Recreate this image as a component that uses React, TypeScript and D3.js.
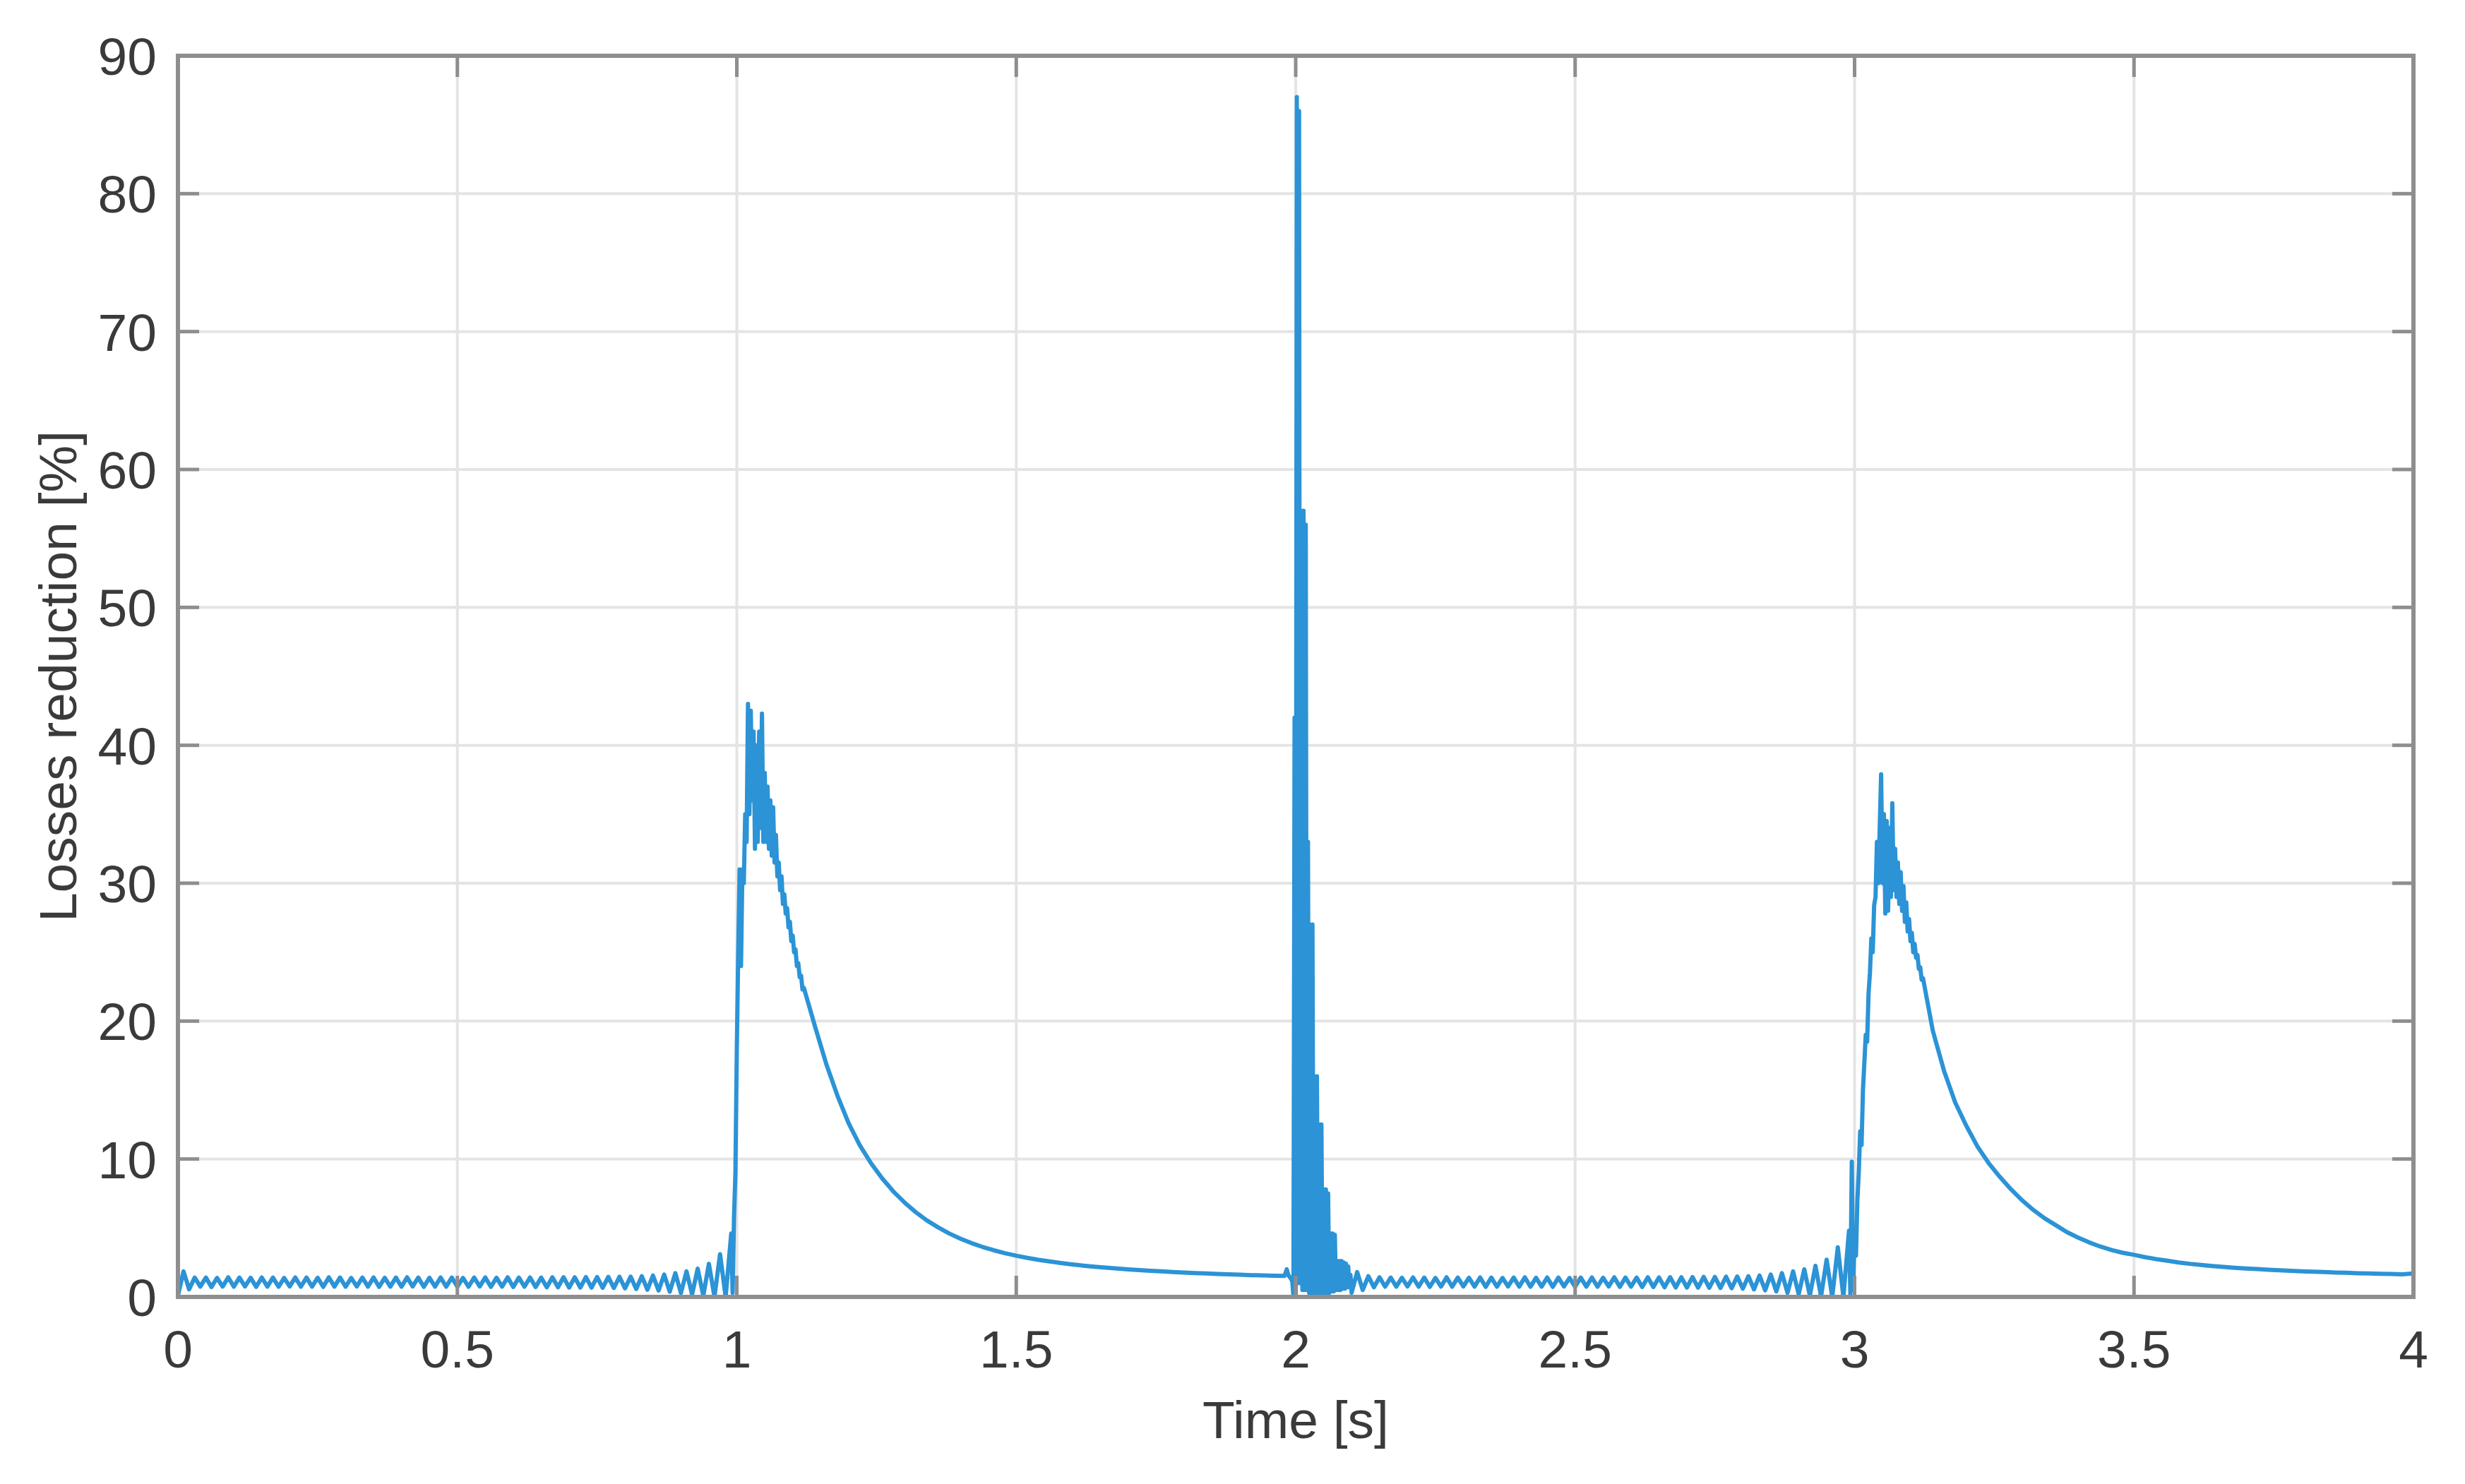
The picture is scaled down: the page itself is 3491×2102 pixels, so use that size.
import React from "react";
import * as d3 from "d3";

// ---- data ----
// Each segment: start time [s], sample step [s], values [%]
const baseline1Start = 0;
const baseline1Step = 0.01;
const baseline1Values = [
  0.1, 1.85, 0.55, 1.4, 0.75, 1.4, 0.72, 1.38, 0.75, 1.42,
  0.74, 1.4, 0.76, 1.39, 0.73, 1.41, 0.75, 1.4, 0.74, 1.38,
  0.76, 1.41, 0.74, 1.4, 0.75, 1.39, 0.73, 1.42, 0.75, 1.4,
  0.74, 1.38, 0.76, 1.4, 0.75, 1.41, 0.73, 1.39, 0.75, 1.4,
  0.74, 1.42, 0.76, 1.4, 0.73, 1.39, 0.75, 1.41, 0.74, 1.4,
  0.75, 1.38, 0.74, 1.4, 0.76, 1.41, 0.73, 1.39, 0.75, 1.42,
  0.72, 1.4, 0.74, 1.41, 0.72, 1.4, 0.7, 1.42, 0.7, 1.43,
  0.68, 1.42, 0.68, 1.44, 0.67, 1.44, 0.66, 1.45, 0.65, 1.46,
  0.62, 1.47, 0.58, 1.5, 0.52, 1.55, 0.46, 1.62, 0.38, 1.72,
  0.28, 1.85, 0.18, 2.05, 0.08, 2.4, 0.02, 3.1, 0,
];

const peak1Start = 0.99;
const peak1Step = 0.0025;
const peak1Values = [
  4.6, 0.3, 5.8, 9, 18, 25, 31, 24, 31, 30, 35, 33, 43, 35, 42.5, 36, 41, 32.5,
  40, 33, 41, 34, 42.3, 33, 38, 33, 37, 32.5, 36, 32, 35.5, 31.5, 33.5, 30.5,
  31.5, 29.5, 30.5, 28.5, 29.2, 27.8, 28.2, 26.8, 27.2, 25.8, 26.2, 25.0, 25.2,
  24.0, 24.2, 23.2, 23.3, 22.3, 22.4,
];

const tail1Start = 1.14;
const tail1Step = 0.02;
const tail1Values = [
  19.6, 16.9, 14.6, 12.6, 11.0, 9.7, 8.6, 7.65, 6.85, 6.15,
  5.55, 5.05, 4.6, 4.22, 3.9, 3.62, 3.38, 3.17, 2.99, 2.83,
  2.69, 2.57, 2.46, 2.36, 2.27, 2.19, 2.12, 2.06, 2.0, 1.95,
  1.9, 1.85, 1.81, 1.77, 1.73, 1.7, 1.67, 1.64, 1.61, 1.58,
  1.56, 1.54, 1.52,
];

const spikeStart = 1.984;
const spikeStep = 0.002;
const spikeValues = [
  2.0, 1.7, 1.5, 1.4, 1.3, 1.1, 0, 42, 0, 87,
  1, 86, 1, 57, 0.5, 57, 0.5, 56, 0.5, 33,
  0.3, 27, 0.3, 27, 0.2, 16, 0.2, 16, 0.2, 12.5,
  0.2, 12.5, 0.2, 7.8, 0.3, 7.8, 0.3, 7.5, 0.3, 4.6,
  0.4, 4.6, 0.4, 4.5, 0.5, 2.6, 0.5, 2.6, 0.5, 2.6,
  0.6, 2.5, 0.6, 2.4, 0.7, 2.2, 0.7, 1.6,
];

const baseline2Start = 2.1;
const baseline2Step = 0.01;
const baseline2Values = [
  0.3, 1.8, 0.5, 1.5, 0.7, 1.42, 0.74, 1.4, 0.75, 1.39,
  0.76, 1.41, 0.74, 1.4, 0.73, 1.38, 0.75, 1.42, 0.74, 1.4,
  0.76, 1.39, 0.75, 1.41, 0.73, 1.4, 0.74, 1.38, 0.76, 1.4,
  0.75, 1.42, 0.74, 1.39, 0.75, 1.41, 0.73, 1.4, 0.76, 1.38,
  0.74, 1.4, 0.75, 1.41, 0.74, 1.39, 0.76, 1.42, 0.73, 1.4,
  0.74, 1.4, 0.72, 1.42, 0.72, 1.41, 0.7, 1.43, 0.69, 1.43,
  0.68, 1.44, 0.67, 1.45, 0.66, 1.45, 0.65, 1.47, 0.63, 1.48,
  0.6, 1.5, 0.55, 1.55, 0.48, 1.62, 0.4, 1.72, 0.3, 1.85,
  0.2, 2.0, 0.1, 2.25, 0.04, 2.7, 0, 3.6, 0,
];

const peak3Start = 2.99;
const peak3Step = 0.0025;
const peak3Values = [
  4.8, 0.2, 9.8, 0.5, 4.6, 3, 7, 9, 12, 11, 15, 17, 19, 18.5, 22, 23.5, 26, 25,
  28.4, 29, 33, 30, 34, 37.9, 30, 35, 27.8, 34.5, 28, 34, 29, 35.8, 29.5, 32.5,
  29, 31.5, 28.5, 30.8, 28, 29.8, 27.2, 28.6, 26.5, 27.4, 25.8, 26.4, 25.0, 25.6,
  24.6, 24.8, 23.8, 23.9, 23.0, 23.1,
];

const tail3Start = 3.14;
const tail3Step = 0.02;
const tail3Values = [
  19.3, 16.4, 14.1, 12.4, 10.9, 9.7, 8.7, 7.8, 7.0, 6.3,
  5.7, 5.2, 4.7, 4.3, 3.95, 3.65, 3.4, 3.2, 3.05, 2.88,
  2.74, 2.62, 2.5, 2.4, 2.32, 2.24, 2.17, 2.11, 2.06, 2.02,
  1.97, 1.93, 1.9, 1.86, 1.83, 1.8, 1.77, 1.75, 1.72, 1.7,
  1.68, 1.66, 1.64, 1.7,
];

const xTicks = [0, 0.5, 1, 1.5, 2, 2.5, 3, 3.5, 4];
const yTicks = [0, 10, 20, 30, 40, 50, 60, 70, 80, 90];
const xLabel = "Time [s]";
const yLabel = "Losses reduction [%]";

type Seg = { start: number; step: number; values: number[] };
const segments: Seg[] = [
  { start: baseline1Start, step: baseline1Step, values: baseline1Values },
  { start: peak1Start, step: peak1Step, values: peak1Values },
  { start: tail1Start, step: tail1Step, values: tail1Values },
  { start: spikeStart, step: spikeStep, values: spikeValues },
  { start: baseline2Start, step: baseline2Step, values: baseline2Values },
  { start: peak3Start, step: peak3Step, values: peak3Values },
  { start: tail3Start, step: tail3Step, values: tail3Values },
];

const series: [number, number][] = [];
segments.forEach((s) =>
  s.values.forEach((v, i) => series.push([s.start + i * s.step, v]))
);

// ---- layout ----
const W = 3491;
const H = 2102;
const L = 252;
const R = 3418;
const T = 79;
const B = 1837;
const FONT = "'Liberation Sans', Arial, Helvetica, sans-serif";
const TEXT = "#3a3a3a";
const AXIS = "#8e8e8e";
const GRID = "#e4e4e4";
const LINE = "#2b93d6";

export default function App() {
  const x = d3.scaleLinear().domain([0, 4]).range([L, R]);
  const y = d3.scaleLinear().domain([0, 90]).range([B, T]);
  const line = d3
    .line<[number, number]>()
    .x((d) => x(d[0]))
    .y((d) => y(d[1]));
  const tickLen = 30;

  return (
    <svg
      width={W}
      height={H}
      style={{ position: "absolute", left: 0, top: 0, background: "#fff" }}
      fontFamily={FONT}
    >
      <rect x={0} y={0} width={W} height={H} fill="#fff" />
      <defs>
        <clipPath id="plot">
          <rect x={L} y={T - 4} width={R - L} height={B - T + 4} />
        </clipPath>
      </defs>
      {/* grid */}
      {xTicks.slice(1, -1).map((t) => (
        <line key={"gx" + t} x1={x(t)} x2={x(t)} y1={T} y2={B} stroke={GRID} strokeWidth={4} />
      ))}
      {yTicks.slice(1, -1).map((t) => (
        <line key={"gy" + t} x1={L} x2={R} y1={y(t)} y2={y(t)} stroke={GRID} strokeWidth={4} />
      ))}
      {/* data */}
      <path
        d={line(series) || ""}
        fill="none"
        stroke={LINE}
        strokeWidth={6}
        strokeLinejoin="round"
        clipPath="url(#plot)"
      />
      {/* ticks */}
      {xTicks.map((t) => (
        <g key={"tx" + t}>
          <line x1={x(t)} x2={x(t)} y1={B} y2={B - tickLen} stroke={AXIS} strokeWidth={5} />
          <line x1={x(t)} x2={x(t)} y1={T} y2={T + tickLen} stroke={AXIS} strokeWidth={5} />
          <text x={x(t)} y={1937} textAnchor="middle" fontSize={75} fill={TEXT}>
            {String(t)}
          </text>
        </g>
      ))}
      {yTicks.map((t) => (
        <g key={"ty" + t}>
          <line x1={L} x2={L + tickLen} y1={y(t)} y2={y(t)} stroke={AXIS} strokeWidth={5} />
          <line x1={R} x2={R - tickLen} y1={y(t)} y2={y(t)} stroke={AXIS} strokeWidth={5} />
          <text x={222} y={y(t) + 27} textAnchor="end" fontSize={75} fill={TEXT}>
            {String(t)}
          </text>
        </g>
      ))}
      {/* box */}
      <rect x={L} y={T} width={R - L} height={B - T} fill="none" stroke={AXIS} strokeWidth={6} />
      {/* labels */}
      <text x={(L + R) / 2} y={2037} textAnchor="middle" fontSize={75} fill={TEXT}>
        {xLabel}
      </text>
      <text
        transform={`translate(108, ${(T + B) / 2}) rotate(-90)`}
        textAnchor="middle"
        fontSize={75}
        fill={TEXT}
      >
        {yLabel}
      </text>
    </svg>
  );
}
